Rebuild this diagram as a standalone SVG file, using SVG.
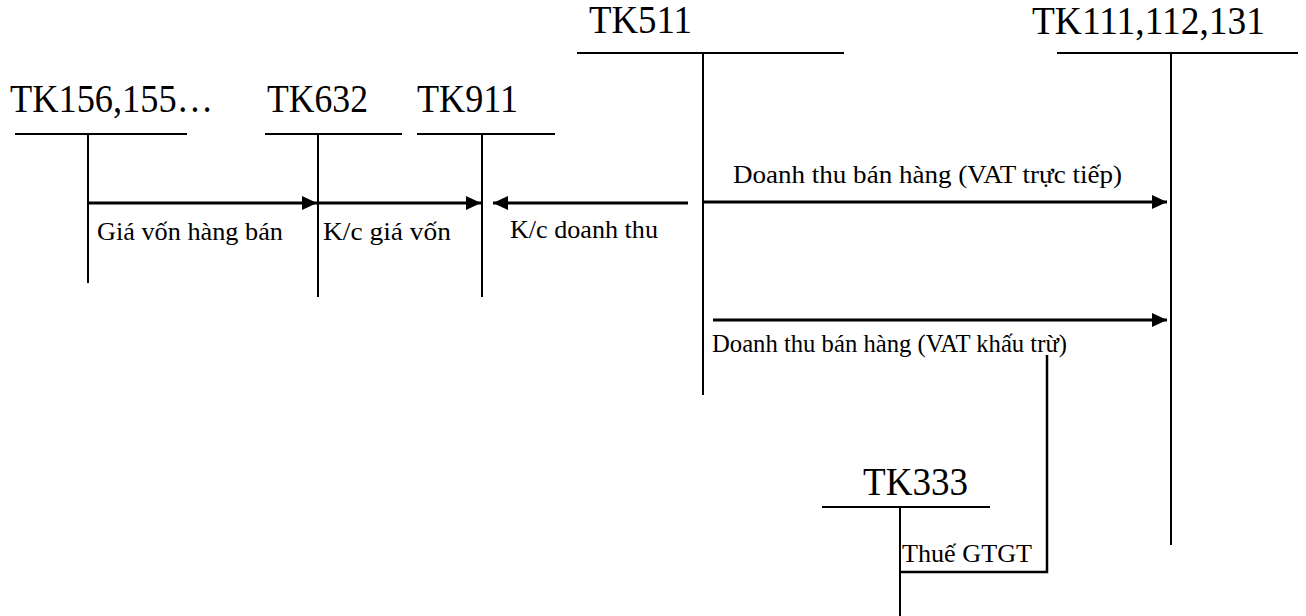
<svg xmlns="http://www.w3.org/2000/svg" width="1306" height="616" viewBox="0 0 1306 616">
<style>
text{font-family:"Liberation Serif","Times New Roman","DejaVu Serif",serif;fill:#000}
.hd{font-size:39px}
.lb{font-size:26px}
.ln{stroke:#000;stroke-width:2;fill:none}
.ar{stroke:#000;stroke-width:3;fill:none}
</style>
<defs>
<marker id="ah" markerUnits="userSpaceOnUse" markerWidth="16" markerHeight="14" refX="15" refY="7" orient="auto">
<path d="M0,0 L15,7 L0,14 Z" fill="#000"/>
</marker>
</defs>
<rect width="1306" height="616" fill="#fff"/>
<g id="tk156">
<text class="hd" x="10" y="112" textLength="203" lengthAdjust="spacingAndGlyphs">TK156,155…</text>
<line class="ln" x1="15" y1="134" x2="187" y2="134"/>
<line class="ln" x1="88" y1="134" x2="88" y2="283"/>
</g>
<g id="tk632">
<text class="hd" x="267" y="112" textLength="101" lengthAdjust="spacingAndGlyphs">TK632</text>
<line class="ln" x1="265" y1="134" x2="402" y2="134"/>
<line class="ln" x1="318" y1="134" x2="318" y2="297"/>
</g>
<g id="tk911">
<text class="hd" x="417" y="112" textLength="101" lengthAdjust="spacingAndGlyphs">TK911</text>
<line class="ln" x1="417" y1="134" x2="555" y2="134"/>
<line class="ln" x1="482" y1="134" x2="482" y2="297"/>
</g>
<g id="tk511">
<text class="hd" x="589" y="33" textLength="103" lengthAdjust="spacingAndGlyphs">TK511</text>
<line class="ln" x1="577" y1="53" x2="844" y2="53"/>
<line class="ln" x1="703" y1="53" x2="703" y2="395"/>
</g>
<g id="tk111">
<text class="hd" x="1032" y="34" textLength="233" lengthAdjust="spacingAndGlyphs">TK111,112,131</text>
<line class="ln" x1="1057" y1="53" x2="1298" y2="53"/>
<line class="ln" x1="1171" y1="53" x2="1171" y2="545"/>
</g>
<g id="tk333">
<text class="hd" x="863" y="495" textLength="105" lengthAdjust="spacingAndGlyphs">TK333</text>
<line class="ln" x1="822" y1="507" x2="990" y2="507"/>
<line class="ln" x1="900" y1="507" x2="900" y2="616"/>
</g>
<g id="connectors">
<line class="ar" x1="88" y1="203" x2="317" y2="203" marker-end="url(#ah)"/>
<line class="ar" x1="318" y1="203" x2="481" y2="203" marker-end="url(#ah)"/>
<line class="ar" x1="688" y1="203" x2="493" y2="203" marker-end="url(#ah)"/>
<line class="ar" x1="703" y1="202" x2="1167" y2="202" marker-end="url(#ah)"/>
<line class="ar" x1="713" y1="320" x2="1167" y2="320" marker-end="url(#ah)"/>
<polyline class="ln" points="900,572 1047,572 1047,355" style="stroke-width:2.5"/>
<text class="lb" x="97" y="240" textLength="186" lengthAdjust="spacingAndGlyphs">Giá vốn hàng bán</text>
<text class="lb" x="323" y="240" textLength="128" lengthAdjust="spacingAndGlyphs">K/c giá vốn</text>
<text class="lb" x="510" y="238" textLength="148" lengthAdjust="spacingAndGlyphs">K/c doanh thu</text>
<text class="lb" x="733" y="183" textLength="389" lengthAdjust="spacingAndGlyphs">Doanh thu bán hàng (VAT trực tiếp)</text>
<text class="lb" x="712" y="352" textLength="355" lengthAdjust="spacingAndGlyphs">Doanh thu bán hàng (VAT khấu trừ)</text>
<text class="lb" x="902" y="562" textLength="130" lengthAdjust="spacingAndGlyphs">Thuế GTGT</text>
</g>
</svg>
